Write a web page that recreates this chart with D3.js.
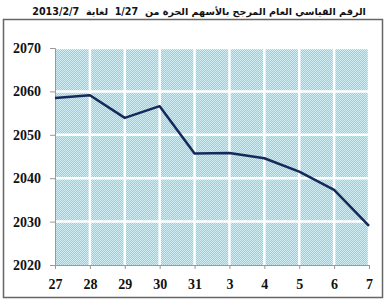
<!DOCTYPE html>
<html>
<head>
<meta charset="utf-8">
<script src="https://cdn.jsdelivr.net/npm/d3@7"></script>
<style>
  body { margin: 0; background: #fff; }
  svg { display: block; }
</style>
</head>
<body>
<svg id="chart" width="386" height="300"></svg>
<script>
// data
var days = ["27", "28", "29", "30", "31", "3", "4", "5", "6", "7"];
var index = [2058.5, 2059.1, 2053.9, 2056.6, 2045.7, 2045.8, 2044.6, 2041.5, 2037.3, 2029.0];
var yTicks = [2020, 2030, 2040, 2050, 2060, 2070];
var title = "الرقم القياسي العام المرجح بالأسهم الحرة من  1/27  لغاية  2013/2/7";

var svg = d3.select("svg#chart"),
  margin = { top: 48, right: 17, bottom: 35, left: 55 },
  width = +svg.attr("width") - margin.left - margin.right,
  height = +svg.attr("height") - margin.top - margin.bottom;

// checker pattern for the plot background
var defs = svg.append("defs");
var pat = defs.append("pattern")
  .attr("id", "checker")
  .attr("width", 2).attr("height", 2)
  .attr("patternUnits", "userSpaceOnUse");
pat.append("rect").attr("width", 2).attr("height", 2).attr("fill", "#d2eef5");
pat.append("rect").attr("width", 1).attr("height", 1).attr("fill", "#8dd1e2");
pat.append("rect").attr("x", 1).attr("y", 1).attr("width", 1).attr("height", 1).attr("fill", "#8dd1e2");

// outer frame
svg.append("rect")
  .attr("x", 3.5).attr("y", 19.5)
  .attr("width", 379).attr("height", 278)
  .attr("fill", "none")
  .attr("stroke", "#666")
  .attr("stroke-width", 1.5);

// title, shrunk to fit the span it has in the original
var titleText = svg.append("text")
  .attr("x", 199)
  .attr("y", 15)
  .attr("text-anchor", "middle")
  .attr("font-family", "'DejaVu Sans', 'Noto Sans', sans-serif")
  .attr("font-weight", "bold")
  .attr("font-size", 11)
  .attr("fill", "#111")
  .style("white-space", "pre")
  .text(title);
var tw = titleText.node().getComputedTextLength();
if (tw > 334) titleText.attr("font-size", 11 * 334 / tw);

var g = svg.append("g")
  .attr("transform", "translate(" + margin.left + "," + margin.top + ")");

var x = d3.scalePoint().domain(days).range([0, width]);
var y = d3.scaleLinear().domain([2020, 2070]).range([height, 0]);

g.append("rect")
  .attr("width", width).attr("height", height)
  .attr("fill", "url(#checker)");

// white grid
g.append("g")
  .selectAll("line.v")
  .data(days.slice(1))
  .enter().append("line")
  .attr("x1", function (d) { return x(d); })
  .attr("x2", function (d) { return x(d); })
  .attr("y1", 0).attr("y2", height)
  .attr("stroke", "#fff").attr("stroke-width", 2.5);

g.append("g")
  .selectAll("line.h")
  .data(yTicks.slice(1))
  .enter().append("line")
  .attr("x1", 0).attr("x2", width)
  .attr("y1", function (d) { return y(d); })
  .attr("y2", function (d) { return y(d); })
  .attr("stroke", "#fff").attr("stroke-width", 2.5);

// axes
var yAxis = g.append("g")
  .call(d3.axisLeft(y).tickValues(yTicks).tickFormat(d3.format("d")).tickSize(5).tickPadding(9));
var xAxis = g.append("g")
  .attr("transform", "translate(0," + height + ")")
  .call(d3.axisBottom(x).tickSize(4).tickPadding(10));

[yAxis, xAxis].forEach(function (a) {
  a.select(".domain").attr("stroke", "#999");
  a.selectAll(".tick line").attr("stroke", "#999");
  a.selectAll("text")
    .attr("fill", "#111")
    .attr("font-family", "'Liberation Serif', 'Times New Roman', serif")
    .attr("font-weight", "bold")
    .attr("font-size", 14);
});

// line
g.append("path")
  .datum(index)
  .attr("fill", "none")
  .attr("stroke", "#142a5c")
  .attr("stroke-width", 2.5)
  .attr("stroke-linejoin", "round")
  .attr("d", d3.line()
    .x(function (d, i) { return x(days[i]); })
    .y(function (d) { return y(d); }));
</script>
</body>
</html>
